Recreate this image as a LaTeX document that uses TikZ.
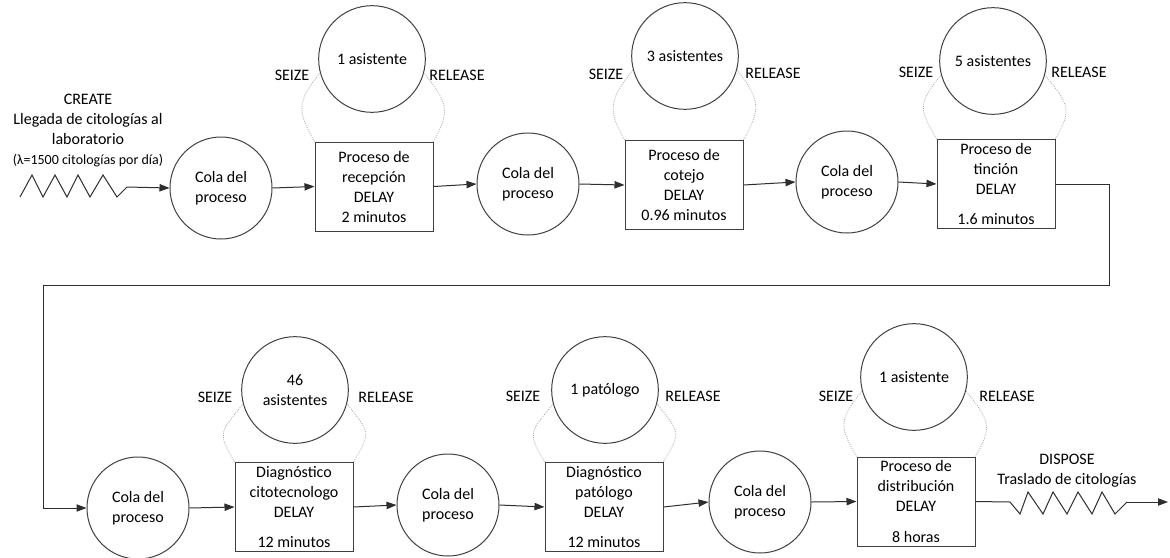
\documentclass[tikz,border=0pt]{standalone}
\usepackage{fontspec}
\setmainfont{Carlito}
\usetikzlibrary{arrows.meta}

\definecolor{edge}{HTML}{404040}
\definecolor{wire}{HTML}{2E2E2E}
\definecolor{hold}{HTML}{ABABAB}

\begin{document}
\begin{tikzpicture}[x=0.75pt,y=-0.75pt,
  every node/.style={font=\fontsize{12}{15}\selectfont, text=black},
  queue/.style={circle, draw=edge, line width=0.75pt, minimum size=76.5pt, inner sep=0pt, align=center},
  pool/.style={circle, draw=edge, line width=0.75pt, minimum size=80pt, inner sep=0pt, align=center},
  task/.style={rectangle, draw=edge, line width=0.75pt, minimum width=88.5pt, minimum height=66.75pt, inner sep=1pt, align=center},
  tag/.style={inner sep=0pt, align=center},
  flow/.style={draw=wire, line width=0.75pt, -{Triangle[length=7.5pt,width=5.5pt]}},
  plain/.style={draw=wire, line width=0.75pt},
  hold/.style={draw=hold, line width=0.55pt, dash pattern=on 0.75pt off 0.9pt}
]
\useasboundingbox (0,0) rectangle (1170,557);

% ---------- first row ----------
\node[tag] (create) at (88,131) {CREATE\\Llegada de citologías al\\laboratorio\\{\fontsize{10.5}{15}\selectfont (λ=1500 citologías por día)}};

\node[queue] (c1) at (221,188) {Cola del\\proceso};
\node[task]  (b1) at (374,186.5) {Proceso de\\recepción\\DELAY\\2 minutos};
\node[pool]  (r1) at (372,59) {1 asistente};

\node[queue] (c2) at (528,184) {Cola del\\proceso};
\node[task]  (b2) at (684,185) {Proceso de\\cotejo\\DELAY\\0.96 minutos};
\node[pool]  (r2) at (685,56) {3 asistentes};

\node[queue] (c3) at (847,182) {Cola del\\proceso};
\node[task]  (b3) at (996,184) {Proceso de\\tinción\\DELAY\\[7pt]1.6 minutos};
\node[pool]  (r3) at (993,61) {5 asistentes};

% ---------- second row ----------
\node[queue] (c4) at (138,508) {Cola del\\proceso};
\node[task]  (b4) at (294,507) {Diagnóstico\\citotecnologo\\DELAY\\[7.5pt]12 minutos};
\node[pool]  (r4) at (295,390) {46\\asistentes};

\node[queue] (c5) at (448,505) {Cola del\\proceso};
\node[task]  (b5) at (604,507) {Diagnóstico\\patólogo\\DELAY\\[7.5pt]12 minutos};
\node[pool]  (r5) at (605,390) {1 patólogo};

\node[queue] (c6) at (760,502) {Cola del\\proceso};
\node[task]  (b6) at (916,501.5) {Proceso de\\distribución\\DELAY\\[8pt]8 horas};
\node[pool]  (r6) at (914,377) {1 asistente};

\node[tag] (dispose) at (1067,471) {DISPOSE\\Traslado de citologías};

% SEIZE / RELEASE labels
\node[tag] (s1) at (292,75) {SEIZE};   \node[tag] (l1) at (457,75) {RELEASE};
\node[tag] (s2) at (606,74) {SEIZE};   \node[tag] (l2) at (773,73) {RELEASE};
\node[tag] (s3) at (916,72) {SEIZE};   \node[tag] (l3) at (1079,72) {RELEASE};
\node[tag] (s4) at (215,397) {SEIZE};  \node[tag] (l4) at (386,397) {RELEASE};
\node[tag] (s5) at (523,396) {SEIZE};  \node[tag] (l5) at (693,396) {RELEASE};
\node[tag] (s6) at (836,396) {SEIZE};  \node[tag] (l6) at (1007,396) {RELEASE};

% resource loops between each delay and its pool
\foreach \b/\r in {b1/r1,b2/r2,b3/r3,b4/r4,b5/r5,b6/r6}{
  \draw[hold] (\b.north west) .. controls +(-17,-30) and +(-24,30) .. (\r.195);
  \draw[hold] (\b.north east) .. controls +(17,-30) and +(24,30) .. (\r.-15);
}

% arrival generator
\coordinate (z0) at (20,197);
\coordinate (z1) at (127,187);
\draw[plain] (z0) -- (32,175) -- (43,197) -- (55,175) -- (67,197) -- (78,175)
  -- (90,197) -- (103,175) -- (117,197) -- (z1);
\draw[flow] (z1) -- (c1.west);

% first row flow
\draw[flow] (c1.east) -- (b1.west);
\draw[flow] (b1.east) -- (c2.west);
\draw[flow] (c2.east) -- (b2.west);
\draw[flow] (b2.east) -- (c3.west);
\draw[flow] (c3.east) -- (b3.west);

% return to the second row
\coordinate (t1) at (1109,285);
\coordinate (t2) at (43,285);
\draw[flow] (b3.east) -| (t1) -- (t2) |- (c4.west);

% second row flow
\draw[flow] (c4.east) -- (b4.west);
\draw[flow] (b4.east) -- (c5.west);
\draw[flow] (c5.east) -- (b5.west);
\draw[flow] (b5.east) -- (c6.west);
\draw[flow] (c6.east) -- (b6.west);

% departure
\coordinate (d0) at (1010,502);
\coordinate (d1) at (1127,502);
\coordinate (d2) at (1168,502);
\draw[plain] (b6.east) -- (d0) -- (1020,514) -- (1028,492) -- (1043,514) -- (1053,492)
  -- (1067,514) -- (1078,492) -- (1092,514) -- (1102,492) -- (1115,514) -- (d1);
\draw[flow] (d1) -- (d2);
\end{tikzpicture}
\end{document}
